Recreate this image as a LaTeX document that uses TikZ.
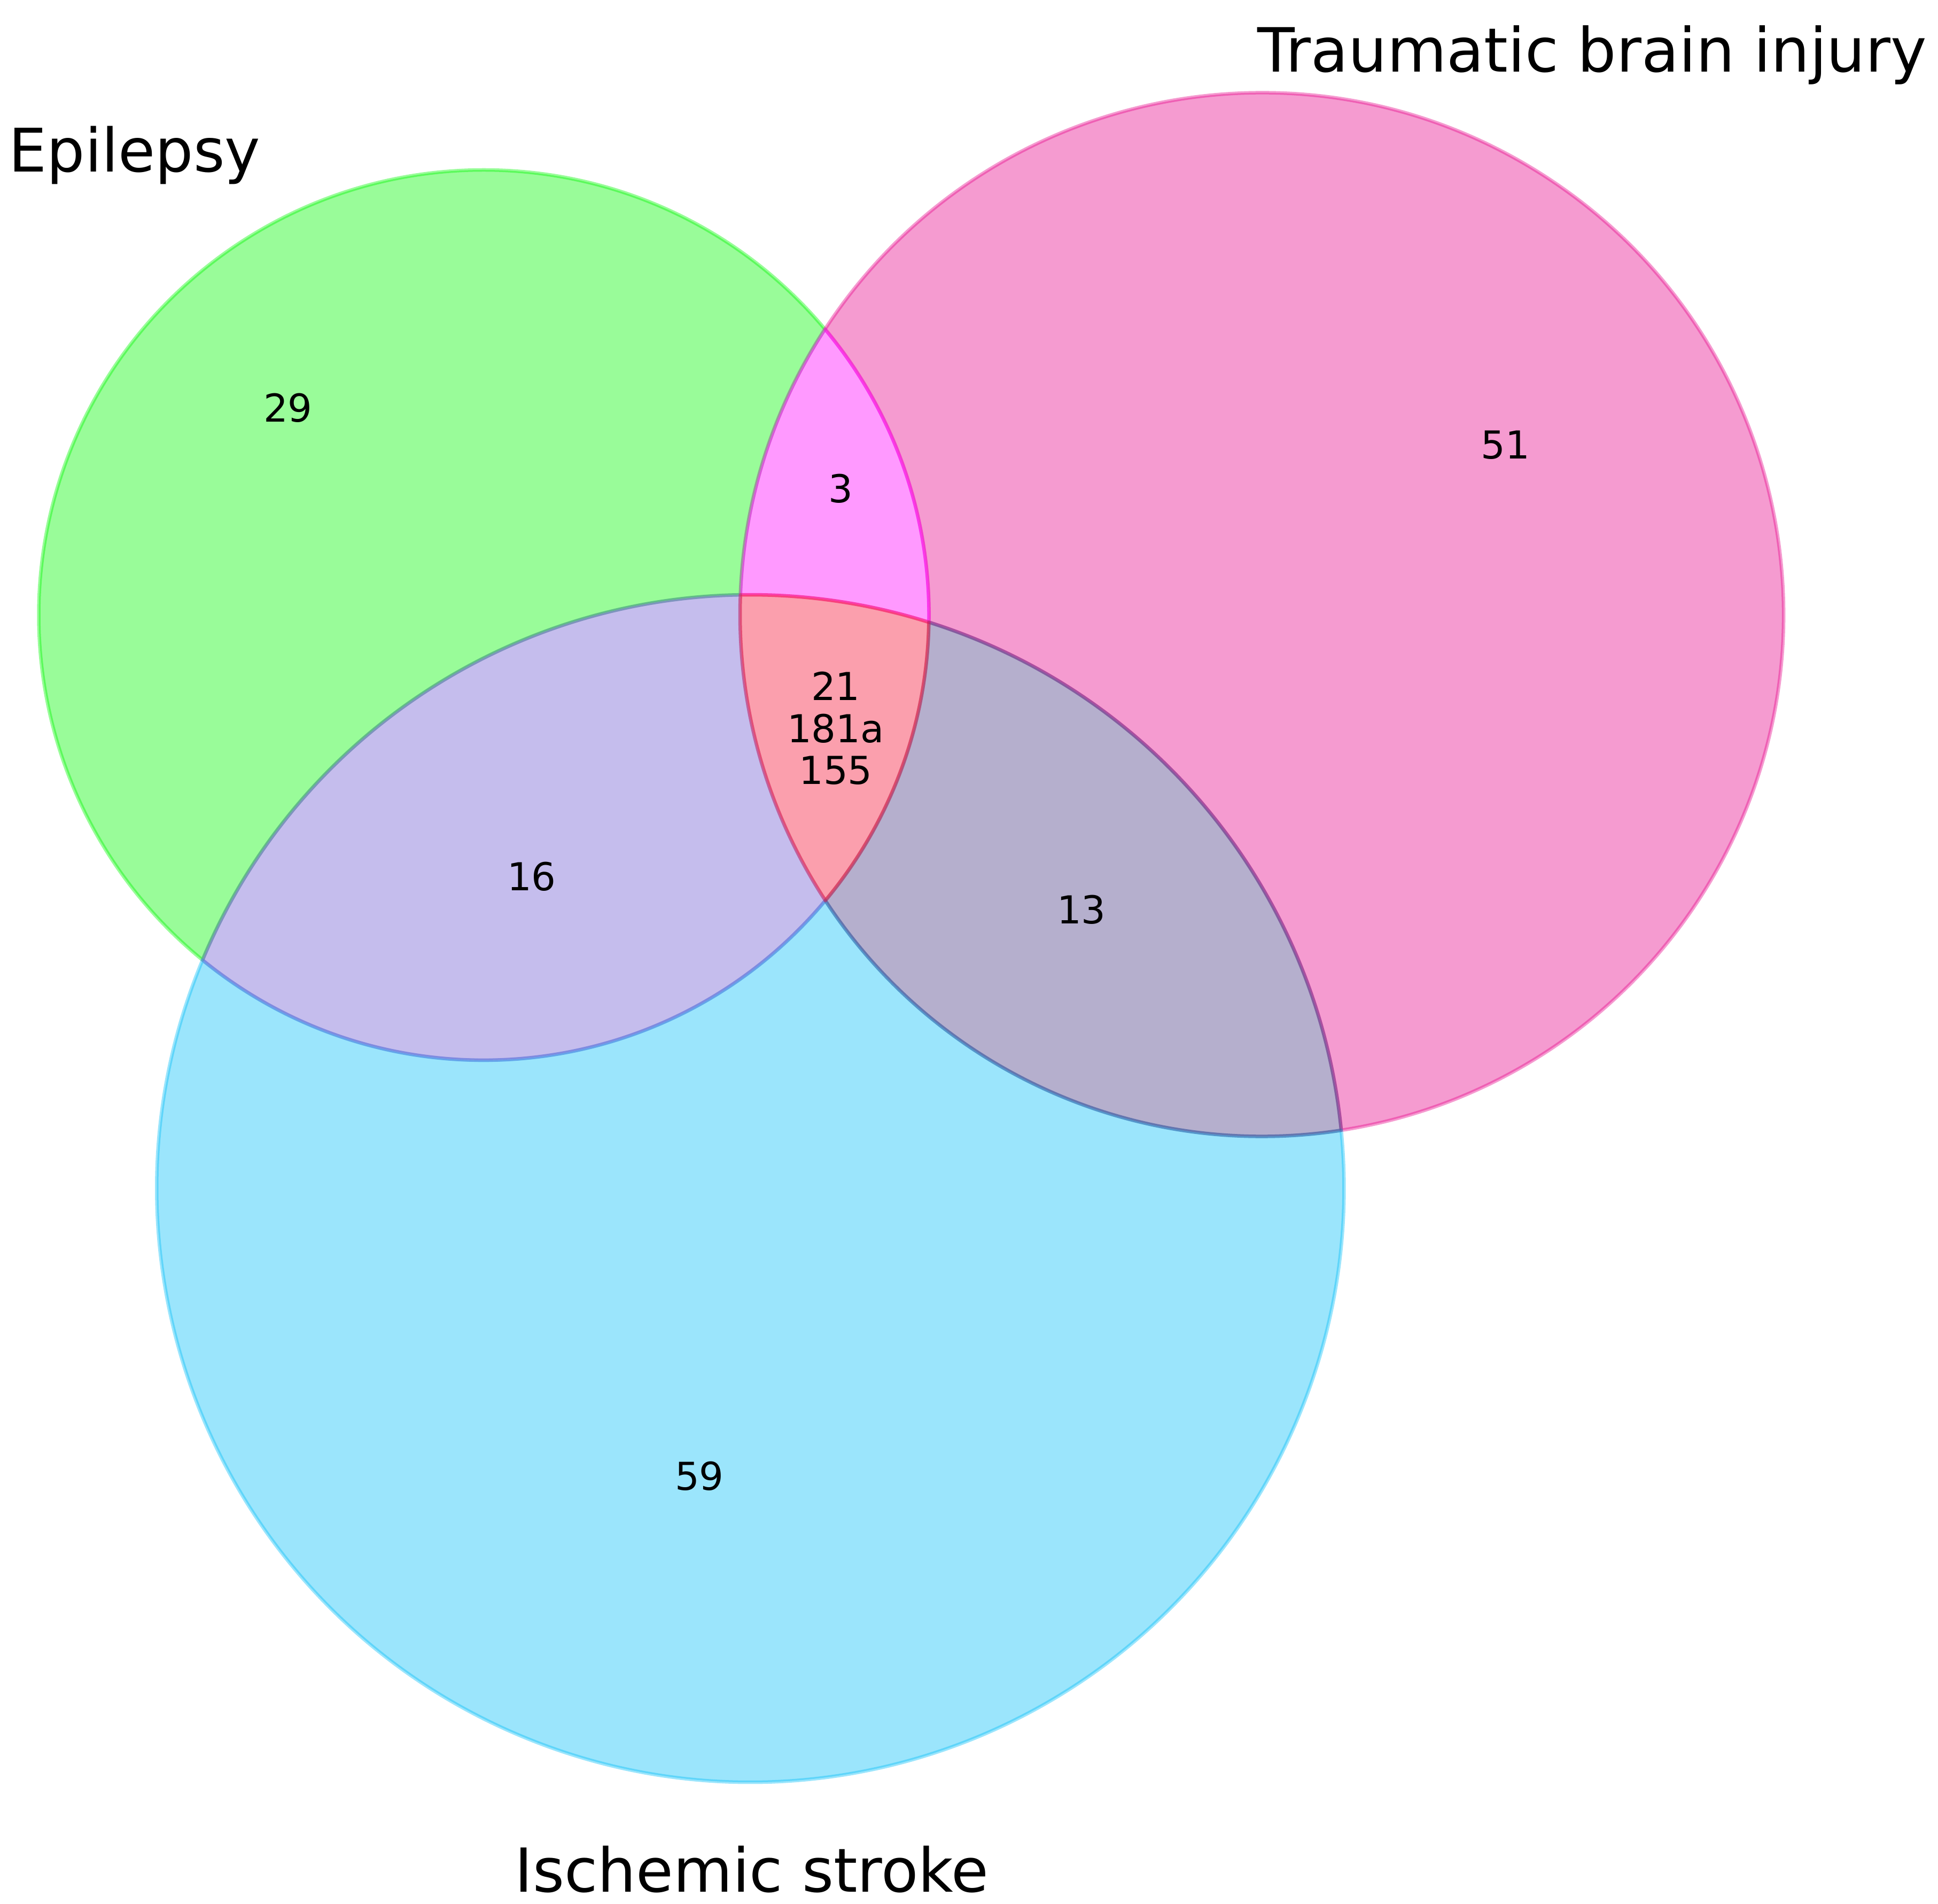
\documentclass[tikz,border=0pt]{standalone}
\usepackage{fontspec}
\setmainfont{DejaVu Sans}
\usetikzlibrary{calc}
\definecolor{cG}{RGB}{0,248,0}
\definecolor{cP}{RGB}{230,5,138}
\definecolor{cB}{RGB}{5,190,248}
\definecolor{cGP}{RGB}{255,0,255}
\definecolor{cGB}{RGB}{110,90,210}
\definecolor{cPB}{RGB}{70,55,132}
\definecolor{cGPB}{RGB}{245,17,52}
\tikzset{
  region/.style={fill=#1, draw=#1, fill opacity=0.4, draw opacity=0.4, line width=0.065cm, line join=round},
  setlabel/.style={inner sep=0pt, font=\fontsize{32pt}{38pt}\selectfont},
  count/.style={inner sep=0pt, align=center, font=\fontsize{20.5pt}{22.4pt}\selectfont}
}
\begin{document}
\begin{tikzpicture}
\fill[white] (0,0) rectangle (36.27,-35.63);
\useasboundingbox (0,0) rectangle (36.27,-35.63);
\coordinate (Gc) at (9.055,-11.51);
\coordinate (Pc) at (23.615,-11.50);
\coordinate (Bc) at (14.045,-22.24);
% Epilepsy only
\path[region=cG] ($(Gc)+(39.96:8.33)$)
  arc[start angle=39.96,end angle=230.80,radius=8.33cm]
  arc[start angle=157.37,end angle=90.97,radius=11.11cm]
  arc[start angle=177.84,end angle=146.84,radius=9.765cm] -- cycle;
% TBI only
\path[region=cP] ($(Pc)+(146.84:9.765)$)
  arc[start angle=146.84,end angle=-81.24,radius=9.765cm]
  arc[start angle=5.624,end angle=72.51,radius=11.11cm]
  arc[start angle=-0.919,end angle=39.96,radius=8.33cm] -- cycle;
% Epilepsy & TBI
\path[region=cGP] ($(Pc)+(146.84:9.765)$)
  arc[start angle=146.84,end angle=177.84,radius=9.765cm]
  arc[start angle=90.97,end angle=72.51,radius=11.11cm]
  arc[start angle=-0.919,end angle=39.96,radius=8.33cm] -- cycle;
% Ischemic stroke only
\path[region=cB] ($(Bc)+(157.37:11.11)$)
  arc[start angle=157.37,end angle=365.624,radius=11.11cm]
  arc[start angle=-81.24,end angle=-146.77,radius=9.765cm]
  arc[start angle=-39.88,end angle=-129.20,radius=8.33cm] -- cycle;
% Epilepsy & stroke
\path[region=cGB] ($(Bc)+(157.37:11.11)$)
  arc[start angle=157.37,end angle=90.97,radius=11.11cm]
  arc[start angle=177.84,end angle=213.23,radius=9.765cm]
  arc[start angle=-39.88,end angle=-129.20,radius=8.33cm] -- cycle;
% TBI & stroke
\path[region=cPB] ($(Bc)+(72.51:11.11)$)
  arc[start angle=72.51,end angle=5.624,radius=11.11cm]
  arc[start angle=-81.24,end angle=-146.77,radius=9.765cm]
  arc[start angle=-39.88,end angle=-0.919,radius=8.33cm] -- cycle;
% all three
\path[region=cGPB] ($(Bc)+(90.97:11.11)$)
  arc[start angle=90.97,end angle=72.51,radius=11.11cm]
  arc[start angle=-0.919,end angle=-39.88,radius=8.33cm]
  arc[start angle=213.23,end angle=177.84,radius=9.765cm] -- cycle;
% set labels
\node[setlabel, anchor=base west] (lblA) at (0.16,-3.22) {Epilepsy};
\node[setlabel, anchor=base west, font=\fontsize{32.5pt}{38pt}\selectfont] (lblB) at (23.53,-1.35) {Traumatic brain injury};
\node[setlabel, anchor=base, font=\fontsize{32.3pt}{38pt}\selectfont] (lblC) at (14.07,-35.40) {Ischemic stroke};
% counts
\node[count] (n100) at (5.39,-7.63) {29};
\node[count] (n110) at (15.73,-9.14) {3};
\node[count] (n010) at (28.17,-8.33) {51};
\node[count] (n101) at (9.95,-16.40) {16};
\node[count] (n011) at (20.24,-17.02) {13};
\node[count] (n001) at (13.09,-27.62) {59};
\node[count] (n111) at (15.64,-13.63) {21\\181a\\155};
\end{tikzpicture}
\end{document}
